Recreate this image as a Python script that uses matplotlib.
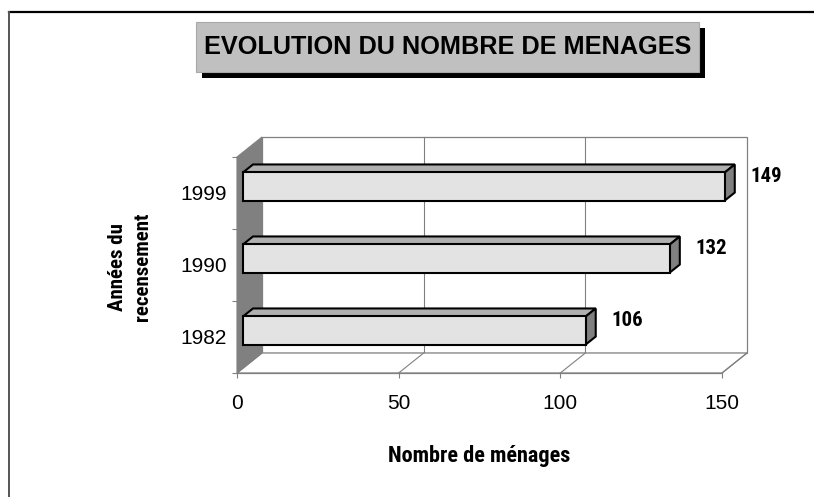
import matplotlib
matplotlib.use("Agg")
import matplotlib.pyplot as plt
from matplotlib.patches import Polygon, Rectangle
from matplotlib.lines import Line2D
from matplotlib import font_manager

# ---- data ----
categories = ["1982", "1990", "1999"]
values = [106, 132, 149]
x_ticks = [0, 50, 100, 150]
title = "EVOLUTION DU NOMBRE DE MENAGES"
x_title = "Nombre de ménages"
y_title = "Années du\nrecensement"

# ---- fonts ----
def pick(fams, weight):
    for f in fams:
        try:
            font_manager.findfont(font_manager.FontProperties(family=f, weight=weight),
                                  fallback_to_default=False)
            return f
        except Exception:
            pass
    return "DejaVu Sans"

narrow_bold = pick(["Roboto Condensed", "PT Sans Narrow", "Liberation Sans"], "bold")
regular = pick(["Liberation Sans", "Arial"], "normal")

W, H = 814, 497
fig = plt.figure(figsize=(W / 100, H / 100), dpi=100)
fig.patch.set_facecolor("white")

# figure border lines (top and left)
fig.add_artist(Line2D([9 / W, 1.0], [1 - 12 / H, 1 - 12 / H], transform=fig.transFigure,
                      color="black", lw=1.6))
fig.add_artist(Line2D([9 / W, 9 / W], [0, 1 - 12 / H], transform=fig.transFigure,
                      color="#555555", lw=1.4))

# title text (box drawn after layout)
tx, ty = 447.5 / W, 1 - 47 / H
ttl = fig.text(tx, ty, title, ha="center", va="center", fontsize=18.2, family=regular,
               weight="bold", color="black", zorder=6)

# main axes = front plane of the 3D box
ax = fig.add_axes([237 / W, 124 / H, 485 / W, 216 / H])
xmax = x_ticks[-1]
ny = len(categories)
ax.set_xlim(0, xmax)
ax.set_ylim(0, ny)
for s in ax.spines.values():
    s.set_visible(False)
ax.set_facecolor("none")

# pixel -> data scale
sx = xmax / ax.bbox.width
sy = ny / ax.bbox.height
DX, DY = 25 * sx, 20 * sy          # depth of the box
ox, oy = 6 * sx, 6.5 * sy          # bar plane offset
bdx, bdy = 10 * sx, 8 * sy         # bar depth
bh = 0.39                          # bar thickness
grid_c = "#808080"

# back wall
ax.add_patch(Rectangle((DX, DY), xmax, ny, fc="white", ec=grid_c, lw=0.9, clip_on=False, zorder=1))
for xv in x_ticks[1:-1]:
    ax.plot([xv + DX, xv + DX], [DY, ny + DY], color=grid_c, lw=0.8, clip_on=False, zorder=1.5)
# floor
ax.add_patch(Polygon([(0, 0), (xmax, 0), (xmax + DX, DY), (DX, DY)], closed=True,
                     fc="white", ec=grid_c, lw=0.9, clip_on=False, zorder=2))
for xv in x_ticks[1:]:
    ax.plot([xv, xv + DX], [0, DY], color=grid_c, lw=0.8, clip_on=False, zorder=2.5)
# left wall
ax.add_patch(Polygon([(0, 0), (0, ny), (DX, ny + DY), (DX, DY)], closed=True,
                     fc="#808080", ec="#808080", lw=0.8, clip_on=False, zorder=3))

# bars
for i, v in enumerate(values):
    c = i + 0.5
    y0, y1 = c - bh / 2 + oy, c + bh / 2 + oy
    x0, x1 = ox, ox + v
    ax.add_patch(Polygon([(x0, y1), (x1, y1), (x1 + bdx, y1 + bdy), (x0 + bdx, y1 + bdy)],
                         closed=True, fc="#b0b0b0", ec="black", lw=1.5, clip_on=False, zorder=5,
                         joinstyle="miter"))
    ax.add_patch(Polygon([(x1, y0), (x1, y1), (x1 + bdx, y1 + bdy), (x1 + bdx, y0 + bdy)],
                         closed=True, fc="#808080", ec="black", lw=1.5, clip_on=False, zorder=5,
                         joinstyle="miter"))
    ax.add_patch(Rectangle((x0, y0), v, bh, fc="#e3e3e3", ec="black", lw=1.5,
                           clip_on=False, zorder=6, joinstyle="miter"))
    ax.text(x1 + 26 * sx, c + oy + 10.5 * sy, str(v), ha="left", va="center",
            fontsize=15, family=narrow_bold, weight="bold", color="black", zorder=7)

# ticks and labels
ax.set_xticks(x_ticks)
ax.set_xticklabels([str(t) for t in x_ticks], fontsize=15, family=regular)
ax.set_yticks([i + 0.5 for i in range(ny)])
ax.set_yticklabels(categories, fontsize=15, family=regular)
ax.set_yticks(list(range(ny + 1)), minor=True)
ax.tick_params(axis="y", which="major", length=0, pad=7.5)
ax.tick_params(axis="y", which="minor", length=3.6, width=0.8, color=grid_c, direction="out")
ax.tick_params(axis="x", which="major", length=3.6, width=0.8, color=grid_c, pad=11.5)
ax.spines["bottom"].set_visible(True)
ax.spines["bottom"].set_color(grid_c)
ax.spines["bottom"].set_linewidth(0.9)
ax.spines["bottom"].set_zorder(4)

ax.set_xlabel(x_title, fontsize=16, family=narrow_bold, weight="bold")
ax.xaxis.set_label_coords(0.5, -(456 - 373) / 216)
ax.xaxis.label.set_va("center")
ax.set_ylabel(y_title, fontsize=15, family=narrow_bold, weight="bold", linespacing=1.35,
              rotation=90)
ax.yaxis.set_label_coords(-(237 - 130) / 485, (373 - 267) / 216)
ax.yaxis.label.set_va("center")
ax.yaxis.label.set_ha("center")

# title box + shadow sized around the rendered title text
fig.canvas.draw()
tb = ttl.get_window_extent()
padx, boxh = 8, 50
bx0 = tb.x0 - padx
bw = tb.width + 2 * padx
by0 = (tb.y0 + tb.y1) / 2 - boxh / 2
fig.add_artist(Rectangle(((bx0 + 6) / W, (by0 - 6) / H), bw / W, boxh / H,
                         transform=fig.transFigure, fc="black", ec="none", zorder=4))
fig.add_artist(Rectangle((bx0 / W, by0 / H), bw / W, boxh / H,
                         transform=fig.transFigure, fc="#c0c0c0", ec="#a8a8a8", lw=0.8, zorder=5))

fig.savefig("out.png", dpi=100, facecolor="white")
